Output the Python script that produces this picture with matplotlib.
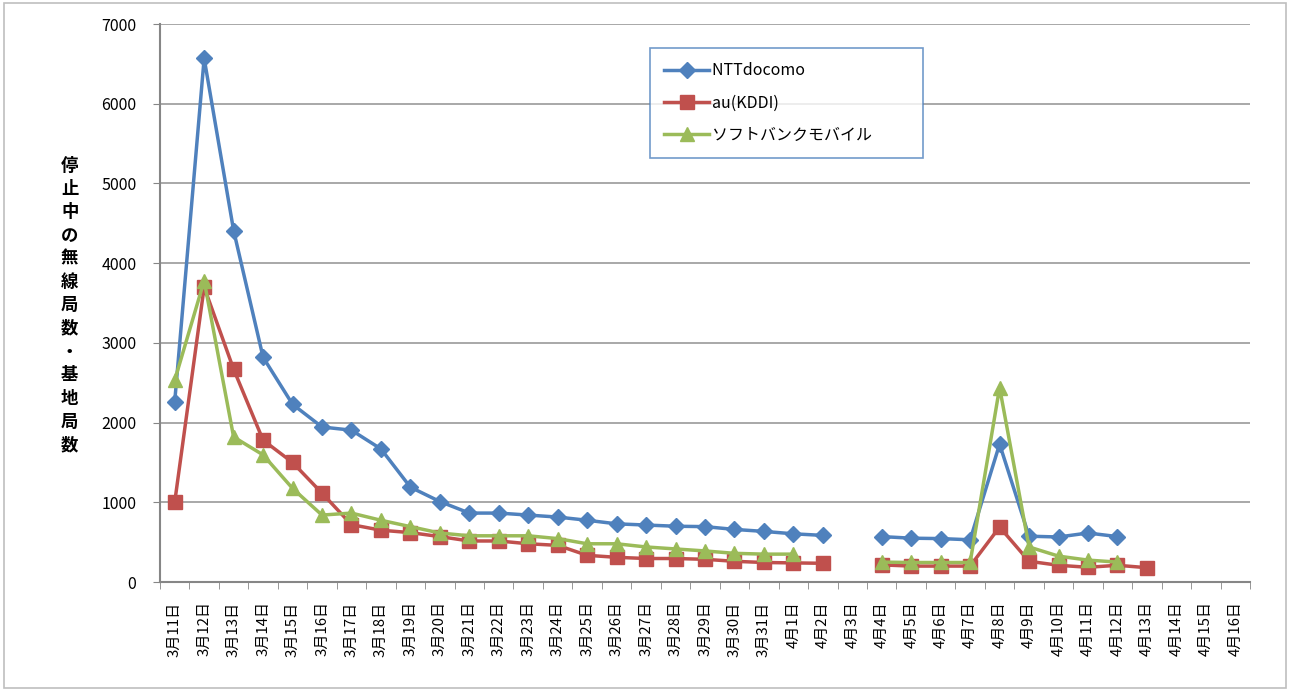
import numpy as np
import matplotlib
matplotlib.use("Agg")
from matplotlib import pyplot as plt
from matplotlib.patches import Rectangle

plt.rcParams['font.family'] = ['Noto Sans CJK JP', 'DejaVu Sans']

nan = np.nan
days = [f"3月{d}日" for d in range(11, 32)] + [f"4月{d}日" for d in range(1, 17)]

docomo = [2260, 6570, 4410, 2820, 2230, 1945, 1905, 1670, 1190, 1010,
          865, 865, 840, 815, 775, 730, 715, 700, 695, 660, 635, 605, 585,
          nan, 570, 550, 545, 530, 1730, 575, 565, 615, 570,
          nan, nan, nan, nan]
au = [1000, 3700, 2670, 1780, 1500, 1115, 720, 650, 620, 570,
      515, 515, 480, 460, 335, 310, 295, 295, 285, 260, 245, 240, 235,
      nan, 215, 200, 200, 200, 690, 260, 210, 185, 210, 180,
      nan, nan, nan]
softbank = [2530, 3780, 1820, 1595, 1175, 840, 865, 775, 695, 615,
            580, 580, 580, 545, 480, 480, 440, 415, 390, 360, 350, 350, nan,
            nan, 250, 245, 245, 245, 2440, 440, 325, 275, 250,
            nan, nan, nan, nan]

labels = ["NTTdocomo", "au(KDDI)", "ソフトバンクモバイル"]
colors = ["#4F81BD", "#C0504D", "#9BBB59"]
markers = ["D", "s", "^"]
sizes = [8, 10, 10]

fig = plt.figure(figsize=(12.9, 6.91), dpi=100)
fig.patches.append(Rectangle((0.003, 0.004), 0.994, 0.992, transform=fig.transFigure,
                             fill=False, edgecolor="#BFBFBF", linewidth=1.2))
ax = fig.add_axes([0.124, 0.1577, 0.845, 0.8075])

x = np.arange(len(days))
for series, lab, c, m, s in zip([docomo, au, softbank], labels, colors, markers, sizes):
    ax.plot(x, series, color=c, marker=m, markersize=s, linewidth=2.5, label=lab, zorder=3)

ax.set_xlim(-0.5, len(days) - 0.5)
ax.set_ylim(0, 7000)
ax.set_yticks(range(0, 7001, 1000))
ax.yaxis.grid(True, color="#999999", linewidth=1.2)
ax.set_axisbelow(True)

ax.set_xticks(x)
ax.set_xticklabels(days, rotation=90, fontsize=10.8)
ax.set_xticks(np.arange(-0.5, len(days), 1), minor=True)
ax.tick_params(axis="x", which="major", length=0, pad=14)
ax.tick_params(axis="x", which="minor", length=5, color="#868686", direction="out")
ax.tick_params(axis="y", length=5, color="#868686", labelsize=11.5, pad=12)

for side in ["top", "right"]:
    ax.spines[side].set_visible(False)
for side in ["left", "bottom"]:
    ax.spines[side].set_color("#868686")
    ax.spines[side].set_linewidth(1.5)

fig.text(0.054, 0.558, "\n".join("停止中の無線局数・基地局数"), fontsize=12.5,
         fontweight="bold", ha="center", va="center", linespacing=1.38)

leg = ax.legend(loc="upper left", bbox_to_anchor=(650 / 1290, 1 - 48 / 691),
                bbox_transform=fig.transFigure, frameon=True, fancybox=False,
                fontsize=11.5, labelspacing=0.95, handlelength=2.8,
                borderpad=0.9, borderaxespad=0, handletextpad=0.2)
leg.get_frame().set_edgecolor("#4F81BD")
leg.get_frame().set_linewidth(1.2)
for t in leg.get_texts():
    t.set_text(t.get_text() + "          ")

fig.savefig("out.png", dpi=100)
